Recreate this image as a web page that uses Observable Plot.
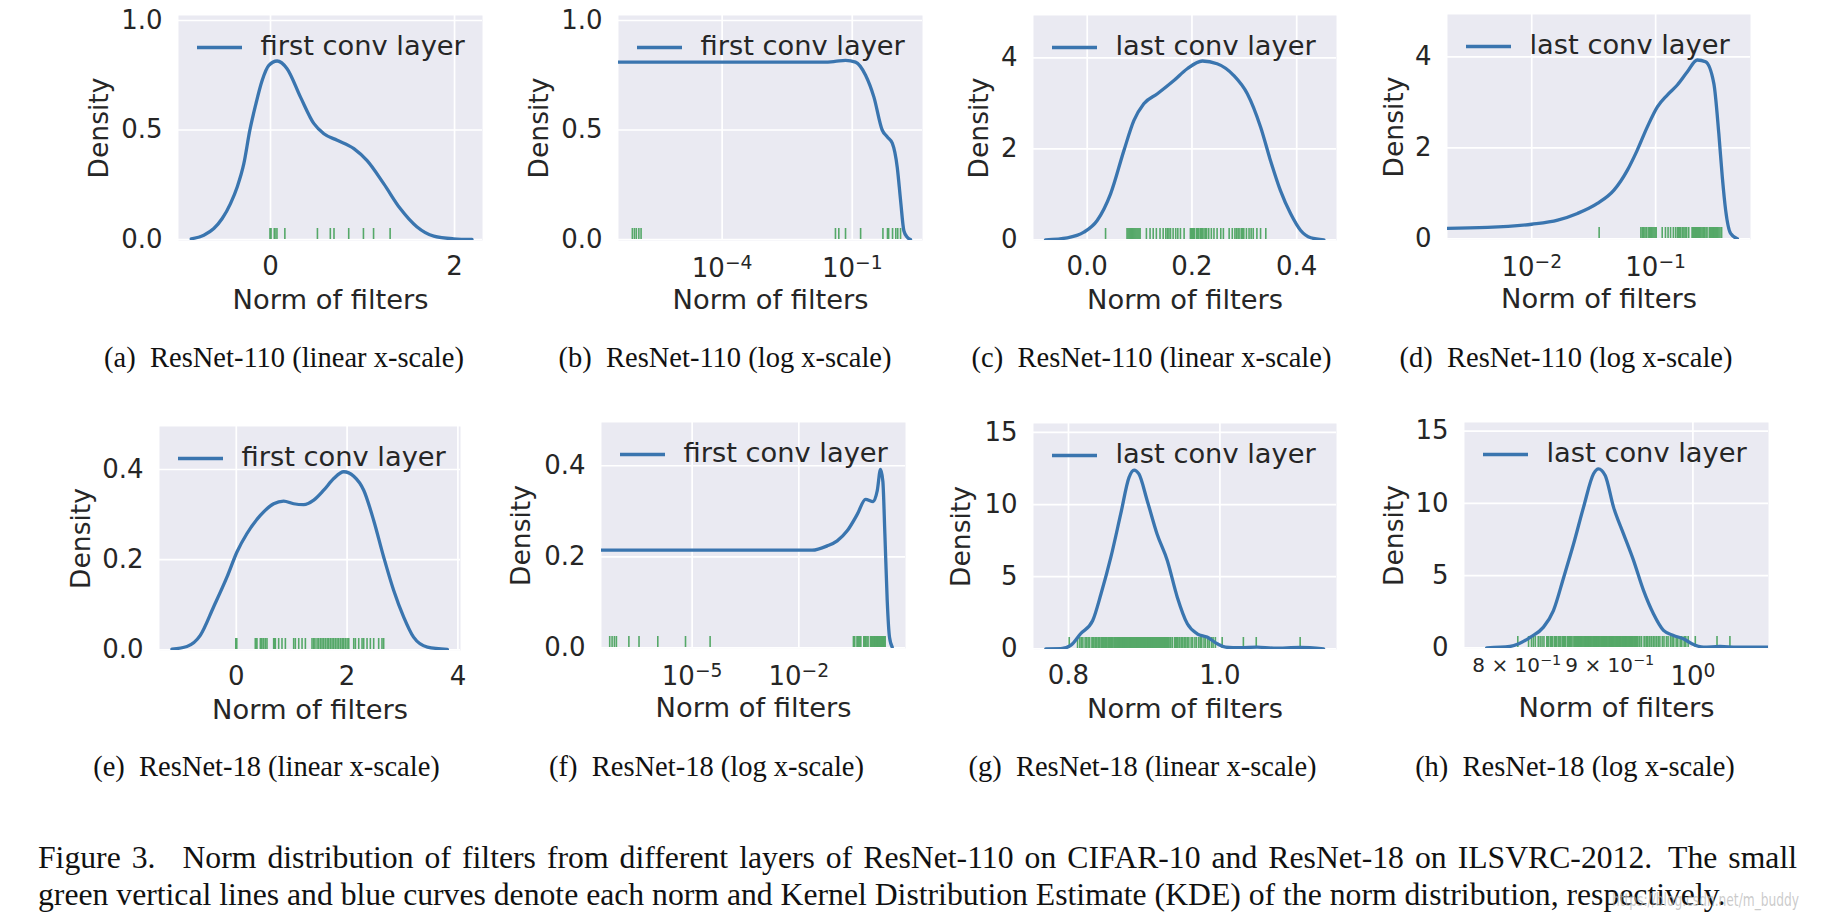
<!DOCTYPE html>
<html>
<head>
<meta charset="utf-8">
<script src="https://cdn.jsdelivr.net/npm/d3@7"></script>
<script src="https://cdn.jsdelivr.net/npm/@observablehq/plot@0.6"></script>
<style>
html, body { margin: 0; padding: 0; background: #fff; }
#fig { position: relative; width: 1830px; height: 924px; overflow: hidden; background: #fff; }
.panel { position: absolute; }
.sub { position: absolute; font-family: "Liberation Serif", "Times New Roman", serif; font-size: 28.5px; line-height: 28.5px; color: #111; white-space: pre; transform: translateX(-50%); }
.cap { position: absolute; left: 38px; font-family: "Liberation Serif", "Times New Roman", serif; font-size: 31.7px; line-height: 31.7px; color: #111; white-space: pre; }
</style>
</head>
<body>
<div id="fig"></div>
<script>
// ---------------- data ----------------
// filter norms (rug marks)
const r110FirstNorms = [8.5e-7, 9.5e-7, 1.05e-6, 1.2e-6, 1.35e-6, 0.041, 0.049, 0.07, 0.156, 0.51, 0.65, 0.69, 0.85, 1.01, 1.12, 1.30];
const r110LastNorms = [0.035, 0.076, 0.078, 0.080, 0.082, 0.084, 0.087, 0.089, 0.091, 0.093, 0.095, 0.097, 0.099, 0.101,
  0.113, 0.120, 0.126, 0.132, 0.139, 0.145, 0.150, 0.153, 0.156, 0.159, 0.164, 0.169, 0.173, 0.178, 0.185,
  0.197, 0.199, 0.201, 0.203, 0.205, 0.209, 0.211, 0.213, 0.216, 0.218, 0.220, 0.223, 0.226, 0.228, 0.232,
  0.237, 0.242, 0.248, 0.255, 0.260, 0.271, 0.277, 0.282, 0.285, 0.288, 0.290, 0.294, 0.296, 0.299, 0.304,
  0.309, 0.313, 0.317, 0.324, 0.331, 0.341];
const r18FirstNorms = [4.8e-8, 5.6e-8, 6.5e-8, 7.4e-8, 1.66e-7, 3.2e-7, 1.08e-6, 6.5e-6, 3.2e-5,
  0.343, 0.358, 0.373, 0.434, 0.449, 0.464, 0.494, 0.524, 0.554, 0.675, 0.69, 0.705, 0.765, 0.825, 0.886,
  1.036, 1.066, 1.127, 1.187, 1.247, 1.367, 1.398, 1.42, 1.458, 1.488, 1.52, 1.548, 1.578, 1.608, 1.64,
  1.669, 1.699, 1.729, 1.759, 1.789, 1.819, 1.849, 1.880, 1.910, 1.93, 1.940, 1.970, 2.0, 2.03, 2.12,
  2.15, 2.21, 2.27, 2.30, 2.36, 2.42, 2.48, 2.57, 2.63, 2.66];
const r18LastNorms = [0.801,
  0.812, 0.815, 0.817, 0.819, 0.822, 0.824, 0.826, 0.828,
  0.831, 0.832, 0.833, 0.835, 0.836, 0.837, 0.839, 0.840, 0.841, 0.843, 0.844, 0.845, 0.846, 0.848, 0.849,
  0.850, 0.851, 0.853, 0.854, 0.855, 0.856, 0.857, 0.858, 0.860, 0.861, 0.862, 0.863, 0.864, 0.865, 0.866,
  0.867, 0.868, 0.869, 0.870, 0.871, 0.872, 0.873, 0.874, 0.875, 0.876, 0.877, 0.878, 0.879, 0.880, 0.881,
  0.882, 0.883, 0.884, 0.885, 0.886, 0.887, 0.888, 0.889, 0.890, 0.891, 0.892, 0.893, 0.894, 0.895, 0.896,
  0.897, 0.898, 0.899, 0.900, 0.901, 0.902, 0.903, 0.904, 0.905, 0.906, 0.907, 0.908, 0.909, 0.910, 0.911,
  0.912, 0.913, 0.914, 0.915, 0.916, 0.917, 0.918, 0.919, 0.920, 0.921, 0.922, 0.923, 0.924, 0.925, 0.926,
  0.927, 0.928, 0.929, 0.930, 0.931, 0.932, 0.934, 0.935, 0.937, 0.940, 0.941, 0.943, 0.944, 0.946, 0.947,
  0.949, 0.951, 0.953, 0.955, 0.957, 0.959, 0.962, 0.964, 0.967, 0.969, 0.972, 0.974, 0.976, 0.979, 0.981,
  0.984, 0.986, 0.989, 0.991, 0.994,
  1.003, 1.031, 1.048, 1.106];

// KDE curves [norm, density], one per panel as drawn
const kdeA = [[-0.862,0.003],[-0.725,0.0198],[-0.616,0.0502],[-0.525,0.0957],[-0.435,0.164],[-0.362,0.24],[-0.29,0.346],[-0.225,0.498],[-0.163,0.612],[-0.091,0.726],[-0.018,0.795],[0.072,0.815],[0.18,0.78],[0.326,0.65],[0.47,0.53],[0.58,0.483],[0.725,0.453],[0.906,0.415],[1.05,0.36],[1.23,0.255],[1.41,0.141],[1.59,0.058],[1.775,0.015],[1.99,0.003],[2.19,0]];
const kdeB = [[1e-7,0.81],[0.0221,0.81],[0.04,0.813],[0.07,0.818],[0.119,0.81],[0.203,0.75],[0.316,0.65],[0.49,0.50],[0.646,0.468],[0.838,0.44],[1.09,0.33],[1.30,0.18],[1.55,0.04],[1.86,0.01],[2.21,0]];
const kdeC = [[-0.0797,0],[-0.038,0.044],[-0.0064,0.168],[0.019,0.425],[0.0446,1.01],[0.070,1.96],[0.089,2.62],[0.108,2.99],[0.134,3.21],[0.1655,3.50],[0.191,3.76],[0.2198,3.93],[0.248,3.87],[0.280,3.61],[0.3057,3.21],[0.331,2.48],[0.350,1.74],[0.369,1.08],[0.3885,0.57],[0.4076,0.205],[0.427,0.044],[0.452,0]];
const kdeD = [[0.001,0.22],[0.0044,0.25],[0.01,0.32],[0.0162,0.41],[0.0234,0.557],[0.0339,0.777],[0.0461,1.07],[0.0592,1.51],[0.0711,1.95],[0.0857,2.46],[0.1033,2.90],[0.1242,3.16],[0.1496,3.38],[0.1803,3.67],[0.2168,3.93],[0.2529,3.89],[0.2951,3.41],[0.3236,2.31],[0.3451,1.36],[0.3673,0.63],[0.4027,0.117],[0.4571,0]];
const kdeE = [[-1.162,0.0015],[-0.89,0.0074],[-0.65,0.032],[-0.41,0.095],[-0.169,0.161],[0.012,0.217],[0.193,0.258],[0.434,0.298],[0.675,0.324],[0.855,0.33],[1.036,0.324],[1.217,0.322],[1.398,0.332],[1.578,0.354],[1.759,0.38],[1.94,0.395],[2.12,0.385],[2.30,0.354],[2.48,0.287],[2.66,0.206],[2.84,0.132],[3.02,0.073],[3.20,0.028],[3.45,0.006],[3.81,0.001]];
const kdeF = [[1e-8,0.2146],[0.0237,0.2146],[0.063,0.224],[0.12,0.235],[0.229,0.257],[0.4385,0.293],[0.7516,0.326],[1.236,0.321],[1.603,0.345],[1.986,0.392],[2.307,0.366],[2.63,0.25],[3.06,0.104],[3.55,0.023],[4.23,0.0015]];
const kdeG = [[0.770,0],[0.790,0.01],[0.803,0.23],[0.816,1.04],[0.832,1.96],[0.843,3.81],[0.856,6.35],[0.869,9.35],[0.880,11.89],[0.8866,12.39],[0.893,12.12],[0.904,10.27],[0.917,7.96],[0.9305,6.12],[0.9437,3.58],[0.957,1.73],[0.970,1.04],[0.983,0.81],[0.9965,0.35],[1.0075,0.115],[1.027,0.07],[1.049,0.115],[1.071,0.046],[1.106,0.092],[1.137,0]];
const kdeH = [[0.770,0],[0.793,0.09],[0.802,0.28],[0.814,0.74],[0.8275,1.43],[0.838,2.58],[0.849,4.89],[0.8597,7.2],[0.8706,9.74],[0.8817,12.05],[0.8872,12.39],[0.8948,11.93],[0.9043,9.74],[0.9158,7.89],[0.9275,6.05],[0.9393,3.97],[0.9512,2.35],[0.9634,1.2],[0.9757,0.85],[0.988,0.62],[0.9987,0.28],[1.0135,0.046],[1.035,0.09],[1.057,0.046],[1.1005,0.046],[1.12,0.05]];

// ticks and tick labels
const xTicksA = [0, 2], xLabelsA = ["0", "2"];
const xTicksB = [1e-4, 1e-1], xLabelsB = ["10\u207B\u2074", "10\u207B\u00B9"];
const xTicksC = [0, 0.2, 0.4], xLabelsC = ["0.0", "0.2", "0.4"];
const xTicksD = [1e-2, 1e-1], xLabelsD = ["10\u207B\u00B2", "10\u207B\u00B9"];
const xTicksE = [0, 2, 4], xLabelsE = ["0", "2", "4"];
const xTicksF = [1e-5, 1e-2], xLabelsF = ["10\u207B\u2075", "10\u207B\u00B2"];
const xTicksG = [0.8, 1.0], xLabelsG = ["0.8", "1.0"];
const xTicksH = [1], xLabelsH = ["10\u2070"];
const xMinorTicksH = [0.8, 0.9], xMinorLabelsH = ["8 \u00D7 10\u207B\u00B9", "9 \u00D7 10\u207B\u00B9"];
const yTicksAB = [0, 0.5, 1.0], yLabelsAB = ["0.0", "0.5", "1.0"];
const yTicksCD = [0, 2, 4], yLabelsCD = ["0", "2", "4"];
const yTicksEF = [0, 0.2, 0.4], yLabelsEF = ["0.0", "0.2", "0.4"];
const yTicksGH = [0, 5, 10, 15], yLabelsGH = ["0", "5", "10", "15"];

const legendLabels = ["first conv layer", "last conv layer"];
const subCaptions = [
  "(a)\u2002ResNet-110 (linear x-scale)", "(b)\u2002ResNet-110 (log x-scale)",
  "(c)\u2002ResNet-110 (linear x-scale)", "(d)\u2002ResNet-110 (log x-scale)",
  "(e)\u2002ResNet-18 (linear x-scale)", "(f)\u2002ResNet-18 (log x-scale)",
  "(g)\u2002ResNet-18 (linear x-scale)", "(h)\u2002ResNet-18 (log x-scale)"];
const captionLine1 = "Figure 3.\u2002 Norm distribution of filters from different layers of ResNet-110 on CIFAR-10 and ResNet-18 on ILSVRC-2012.\u2002The small";
const captionLine2 = "green vertical lines and blue curves denote each norm and Kernel Distribution Estimate (KDE) of the norm distribution, respectively.";
const watermark = "https://blog.csdn.net/m_buddy";

// ---------------- layout / style ----------------
const BLUE = "#3A75AF", GREEN = "#55A868", BG = "#EAEAF2", INK = "#262626";
const FS = 26, FSL = 27.3;
const ML = 110, MR = 14, MT = 6, MB = 84;
const NS = "http://www.w3.org/2000/svg";

const panels = [
  {left: 178, top: 15, w: 304, h: 225, type: "linear", xd: [-1.0, 2.304], xt: xTicksA, xl: xLabelsA, yd: [-0.0046, 1.0228], yt: yTicksAB, yl: yLabelsAB, rug: r110FirstNorms, kde: kdeA, leg: 0, ydx: -79, cx: 284, cb: 368},
  {left: 618, top: 15, w: 304, h: 225, type: "log", xd: [4.07e-7, 4.17], xt: xTicksB, xl: xLabelsB, yd: [-0.0046, 1.0228], yt: yTicksAB, yl: yLabelsAB, rug: r110FirstNorms, kde: kdeB, leg: 0, ydx: -79, cx: 725, cb: 368},
  {left: 1033, top: 15, w: 303, h: 225, type: "linear", xd: [-0.1026, 0.476], xt: xTicksC, xl: xLabelsC, yd: [-0.0154, 4.93], yt: yTicksCD, yl: yLabelsCD, rug: r110LastNorms, kde: kdeC, leg: 1, ydx: -54, cx: 1151.5, cb: 368},
  {left: 1447, top: 14, w: 303, h: 225, type: "log", xd: [0.00209, 0.583], xt: xTicksD, xl: xLabelsD, yd: [-0.0154, 4.93], yt: yTicksCD, yl: yLabelsCD, rug: r110LastNorms, kde: kdeD, leg: 1, ydx: -53, cx: 1566, cb: 368},
  {left: 159, top: 426, w: 301, h: 224, type: "linear", xd: [-1.386, 4.047], xt: xTicksE, xl: xLabelsE, yd: [-0.0016, 0.4954], yt: yTicksEF, yl: yLabelsEF, rug: r18FirstNorms, kde: kdeE, leg: 0, ydx: -78, cx: 266.5, cb: 776.5},
  {left: 601, top: 422, w: 304, h: 226, type: "log", xd: [2.82e-8, 10], xt: xTicksF, xl: xLabelsF, yd: [-0.0015, 0.495], yt: yTicksEF, yl: yLabelsEF, rug: r18FirstNorms, kde: kdeF, leg: 0, ydx: -80, cx: 706.5, cb: 776.5},
  {left: 1033, top: 423, w: 303, h: 226, type: "linear", xd: [0.7538, 1.154], xt: xTicksG, xl: xLabelsG, yd: [-0.05, 15.62], yt: yTicksGH, yl: yLabelsGH, rug: r18LastNorms, kde: kdeG, leg: 1, ydx: -72, cx: 1142.5, cb: 776.5},
  {left: 1464, top: 422, w: 304, h: 226, type: "log", xd: [0.7487, 1.1005], xt: xTicksH, xl: xLabelsH, yd: [-0.05, 15.6], yt: yTicksGH, yl: yLabelsGH, rug: r18LastNorms, kde: kdeH, leg: 1, ydx: -70, cx: 1575, cb: 776.5,
   minor: {t: xMinorTicksH, l: xMinorLabelsH}}
];

function legendLine(index, scales, values, dims) {
  const l = document.createElementNS(NS, "line");
  l.setAttribute("x1", dims.marginLeft + 19);
  l.setAttribute("x2", dims.marginLeft + 64);
  l.setAttribute("y1", dims.marginTop + 32.5);
  l.setAttribute("y2", dims.marginTop + 32.5);
  l.setAttribute("stroke", BLUE);
  l.setAttribute("stroke-width", 3.3);
  return l;
}

// typeset exponents (10⁻⁴ …) as raised, smaller text like matplotlib mathtext
const supMap = {"\u207B": "\u2212", "\u2070": "0", "\u00B9": "1", "\u00B2": "2", "\u00B3": "3", "\u2074": "4", "\u2075": "5", "\u2076": "6", "\u2077": "7", "\u2078": "8", "\u2079": "9"};
function raiseExponents(svg) {
  svg.querySelectorAll("text").forEach(t => {
    const s = t.textContent;
    const m = s.match(/^(.*?)([\u207B\u2070\u00B9\u00B2\u00B3\u2074-\u2079]+)$/);
    if (!m) return;
    t.textContent = m[1];
    const ts = document.createElementNS(NS, "tspan");
    ts.setAttribute("dy", "-0.45em");
    ts.setAttribute("font-size", "72%");
    ts.textContent = [...m[2]].map(c => supMap[c]).join("");
    t.appendChild(ts);
  });
}

const fig = document.getElementById("fig");

panels.forEach((p, i) => {
  const isLog = p.type === "log";
  const marks = [
    Plot.frame({fill: BG, stroke: "none"}),
    Plot.gridX(p.xt, {stroke: "white", strokeOpacity: 1, strokeWidth: 1.7}),
    Plot.gridY(p.yt, {stroke: "white", strokeOpacity: 1, strokeWidth: 1.7}),
    Plot.axisY(p.yt, {tickSize: 0, tickPadding: 16, tickFormat: d => p.yl[p.yt.indexOf(d)], fontSize: FS, fill: INK, label: null}),
    Plot.axisX(p.xt, {tickSize: 0, tickPadding: isLog ? 18 : 16, tickFormat: d => p.xl[p.xt.indexOf(d)], fontSize: FS, fill: INK, label: null}),
  ];
  if (p.minor) {
    marks.push(Plot.text(p.minor.t, {x: d => d, text: (d, j) => p.minor.l[j], frameAnchor: "bottom", lineAnchor: "top", textAnchor: "middle", dy: 9, fontSize: 20, fill: INK}));
  }
  marks.push(
    Plot.ruleX(p.rug, {x: d => d, stroke: GREEN, strokeWidth: 1.6, insetTop: p.h - 12, insetBottom: 1, clip: true}),
    Plot.line(p.kde, {x: d => d[0], y: d => d[1], stroke: BLUE, strokeWidth: 3.3, curve: "monotone-x", clip: true}),
    legendLine,
    Plot.text([legendLabels[p.leg]], {text: d => d, frameAnchor: "top-left", dx: 82, dy: 30.5, lineAnchor: "middle", textAnchor: "start", fontSize: FSL, fill: INK}),
    Plot.text(["Norm of filters"], {text: d => d, frameAnchor: "bottom", dy: 68, lineAnchor: "bottom", textAnchor: "middle", fontSize: FSL, fill: INK}),
    Plot.text(["Density"], {text: d => d, frameAnchor: "left", dx: p.ydx, rotate: -90, lineAnchor: "middle", textAnchor: "middle", fontSize: 26.5, fill: INK})
  );
  const chart = Plot.plot({
    width: p.w + ML + MR,
    height: p.h + MT + MB,
    marginLeft: ML, marginRight: MR, marginTop: MT, marginBottom: MB,
    x: {type: p.type, domain: p.xd},
    y: {type: "linear", domain: p.yd},
    style: {fontFamily: "'DejaVu Sans', sans-serif", fontSize: FS + "px", color: INK, background: "transparent", overflow: "visible"},
    marks
  });
  raiseExponents(chart);
  chart.classList.add("panel");
  chart.style.left = (p.left - ML) + "px";
  chart.style.top = (p.top - MT) + "px";
  chart.style.position = "absolute";
  fig.appendChild(chart);

  const s = document.createElement("div");
  s.className = "sub";
  s.textContent = subCaptions[i];
  s.style.left = p.cx + "px";
  s.style.top = (p.cb - 28.5 * 0.8375) + "px";
  fig.appendChild(s);
});

// caption: first line justified to the full text width, second line natural
const CAP_WIDTH = 1759, CAP_FS = 31.7;
const c1 = document.createElement("div");
c1.className = "cap";
c1.textContent = captionLine1;
c1.style.top = (868.3 - CAP_FS * 0.8375) + "px";
fig.appendChild(c1);
const natural = c1.getBoundingClientRect().width;
const nSpaces = (captionLine1.match(/ /g) || []).length;
c1.style.wordSpacing = ((CAP_WIDTH - natural) / nSpaces) + "px";

const c2 = document.createElement("div");
c2.className = "cap";
c2.textContent = captionLine2;
c2.style.top = (905.5 - CAP_FS * 0.8375) + "px";
fig.appendChild(c2);

// faint source watermark over the end of the caption, as in the image
const wm = document.createElementNS(NS, "svg");
wm.setAttribute("width", 1830); wm.setAttribute("height", 924);
wm.style.position = "absolute"; wm.style.left = "0"; wm.style.top = "0"; wm.style.pointerEvents = "none";
const wt = document.createElementNS(NS, "text");
wt.setAttribute("transform", "translate(1612,906) scale(0.68,1)");
wt.setAttribute("font-family", "DejaVu Sans, sans-serif"); wt.setAttribute("font-size", 18);
wt.setAttribute("fill", "rgba(185,185,185,0.75)");
wt.textContent = watermark;
wm.appendChild(wt);
fig.appendChild(wm);
</script>
</body>
</html>
